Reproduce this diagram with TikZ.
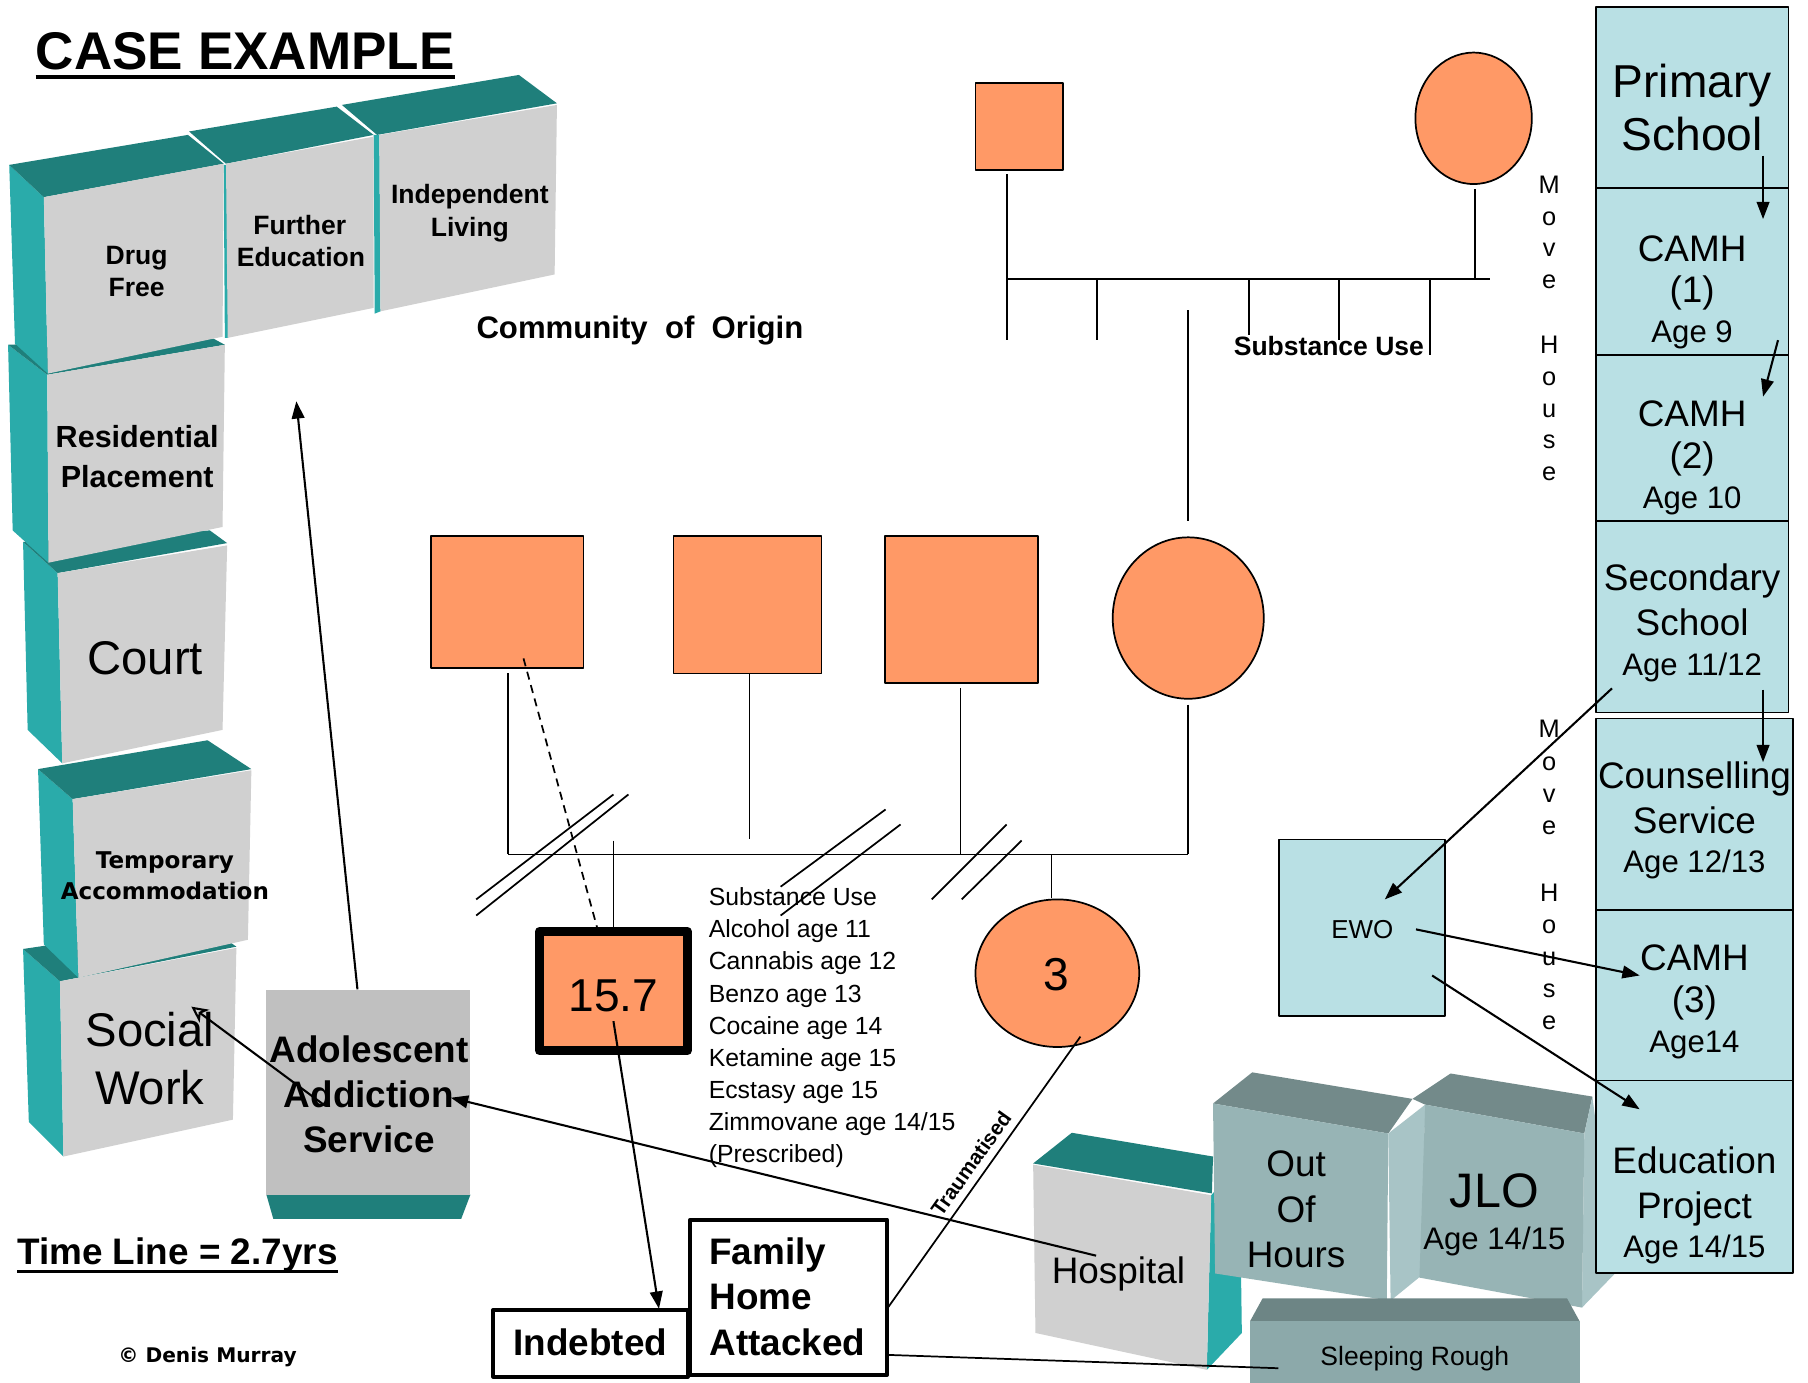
\documentclass[tikz,border=0pt]{standalone}
\usepackage{fontspec}
\setmainfont{Liberation Sans}
\newfontfamily\verd{DejaVu Sans}
\usetikzlibrary{arrows.meta,shapes.geometric,calc}
\definecolor{tside}{HTML}{2AABAA}
\definecolor{ttop}{HTML}{1F7F7B}
\definecolor{bgray}{HTML}{D0D0D0}
\definecolor{agray}{HTML}{C0C0C0}
\definecolor{orng}{HTML}{FF9966}
\definecolor{lcyan}{HTML}{B9E0E4}
\definecolor{gfront}{HTML}{97B4B5}
\definecolor{gtop}{HTML}{738A8A}
\definecolor{gside}{HTML}{A8C4C6}
\definecolor{sfront}{HTML}{8CA9AA}
\definecolor{stop}{HTML}{6D8585}
\newcommand\fsz[2]{\fontsize{#1}{#2}\selectfont}
\newcommand\txtl[6][]{\node[inner sep=0,outer sep=0,anchor=base,font={\fsz{#5}{#5}#1}] (#2) at (#3,{#4+0.358*#5}) {#6};}
\newcommand\txtw[6][]{\node[inner sep=0,outer sep=0,anchor=base west,font={\fsz{#5}{#5}#1}] (#2) at (#3,{#4+0.358*#5}) {#6};}
\tikzset{
  gen/.style={line width=1.5},
  conn/.style={line width=1.8},
  arr/.style={line width=1.8,-{Triangle[length=15,width=11]}},
  oarr/.style={line width=1.8,-{Stealth[open,length=14,width=14,inset=4]}},
  gsq/.style={draw,line width=1.5,fill=orng,rectangle,inner sep=0},
  gci/.style={draw,line width=1.5,fill=orng,ellipse,inner sep=0},
  rbox/.style={draw,line width=1.5,fill=lcyan,rectangle,inner sep=0},
  tbox/.style={draw,fill=white,rectangle,inner sep=0,line width=3.5},
}
\begin{document}
\begin{tikzpicture}[x=1pt,y=-1pt,line join=round]
\useasboundingbox (0,0) rectangle (1568,1199);
\fill[white] (0,0) rectangle (1568,1199);

% ---------- left column of 3D blocks ----------
% Social Work
\fill[tside] (20,823) -- (52,851) -- (55,1003) -- (25,973) -- cycle;
\fill[ttop] (20,823) -- (175,800) -- (205,821) -- (52,851) -- cycle;
\fill[bgray] (52,851) -- (205,822) -- (202,971) -- (55,1003) -- cycle;
% Temporary Accommodation
\fill[tside] (33,667) -- (63,693) -- (68,848) -- (38,819) -- cycle;
\fill[ttop] (33,667) -- (180,642) -- (218,667) -- (63,693) -- cycle;
\fill[bgray] (63,693) -- (218,668) -- (215,815) -- (68,848) -- cycle;
% Court
\fill[tside] (20,470) -- (50,497) -- (54,662) -- (24,633) -- cycle;
\fill[ttop] (20,470) -- (182,460) -- (197,471) -- (50,497) -- cycle;
\fill[bgray] (50,497) -- (197,473) -- (193,633) -- (54,662) -- cycle;
% Residential Placement
\fill[tside] (7,299) -- (41,325) -- (42,488) -- (11,460) -- cycle;
\fill[ttop] (7,299) -- (182,292) -- (195,299) -- (41,325) -- cycle;
\fill[bgray] (41,325) -- (195,299) -- (193,457) -- (42,488) -- cycle;
% Independent Living
\fill[ttop] (296.5,91) -- (450,65) -- (483,89.6) -- (327,117) -- cycle;
\fill[tside] (324,117) -- (329,117) -- (330,270) -- (325,272) -- cycle;
\fill[bgray] (329,117) -- (483,91) -- (481,238) -- (330,270) -- cycle;
% Further Education
\fill[ttop] (164,114) -- (292,92.5) -- (324,117) -- (196,142) -- cycle;
\fill[tside] (194,143) -- (197,143) -- (198,293) -- (195,293) -- cycle;
\fill[bgray] (196,142) -- (324,118.5) -- (324,267) -- (197.5,293) -- cycle;
% Drug Free
\fill[tside] (8,143) -- (38,171) -- (41.5,324) -- (13,298) -- cycle;
\fill[ttop] (8,143) -- (163,117) -- (194,142) -- (38,171) -- cycle;
\fill[bgray] (38,171) -- (194,142) -- (193,292) -- (41.5,324) -- cycle;

% Adolescent Addiction Service
\fill[ttop] (231,1036) -- (408,1036) -- (400,1057) -- (237,1057) -- cycle;
\node[fill=agray,rectangle,inner sep=0,minimum width=177,minimum height=177] (aas) at (319.5,947.5) {};

% ---------- genogram top ----------
\node[gsq,minimum width=76,minimum height=75.5] (gf) at (884,109.8) {};
\node[gci,minimum width=101,minimum height=114] (gm) at (1278,102.6) {};
\coordinate (gfd) at (873,151);
\coordinate (gfl) at (873,295);
\coordinate (gmd) at (1279,164);
\coordinate (hl) at (873,242);
\coordinate (hr) at (1292,242);
\draw[gen] (gfd) -- (gfl);
\draw[gen] (gmd) -- (1279,242);
\draw[gen] (hl) -- (hr);
\draw[gen] (951.6,242) -- (951.6,295);
\draw[gen] (1083,242) -- (1083,290.6);
\draw[gen] (1161,242) -- (1161,295);
\draw[gen] (1240,242) -- (1240,308);
\coordinate (mtop) at (1030,269);
\coordinate (mbot) at (1030,452);
\draw[gen] (mtop) -- (mbot);

% ---------- genogram middle ----------
\node[gsq,minimum width=132.4,minimum height=114.6] (s1) at (439.8,522.3) {};
\node[gsq,minimum width=128.4,minimum height=119] (s2) at (648.2,524.5) {};
\node[gsq,minimum width=132.4,minimum height=127.6] (s3) at (833.8,528.8) {};
\node[gci,minimum width=131,minimum height=140] (c1) at (1030.5,536) {};
\coordinate (j1) at (440.6,741);
\coordinate (j4) at (1030,741);
\draw[gen] (440.6,584) -- (j1);
\draw[gen] (650,584) -- (650,728);
\draw[gen] (833,597) -- (833,741);
\draw[gen] (1030,611) -- (j4);
\draw[gen] (j1) -- (j4);
\draw[gen] (912,741) -- (912,779);
\draw[gen] (532,729) -- (532,806);
\draw[gen,dash pattern=on 7pt off 5pt] (454,571) -- (518,805);
% separation slashes
\draw[gen] (413,780) -- (532,689);
\draw[gen] (413,794) -- (545,689);
\draw[gen] (677,769) -- (768,702);
\draw[gen] (677,794) -- (781,715);
\draw[gen] (808,780) -- (873,715);
\draw[gen] (834,780) -- (886,729);

% the young person and the sibling
\node[draw,fill=orng,rectangle,inner sep=0,line width=7.7,minimum width=128.3,minimum height=103.3] (yp) at (532,859.5) {};
\node[gci,minimum width=142,minimum height=128] (c3) at (917,844) {};

% Indebted / Family Home Attacked boxes
\node[tbox,minimum width=168.5,minimum height=58] (ind) at (512,1165) {};
\node[tbox,minimum width=170.5,minimum height=134.5] (fam) at (684,1125) {};

% ---------- bottom right 3D blocks ----------
% Hospital
\fill[tside] (1050.4,1036.5) -- (1075,1010) -- (1077,1156) -- (1046.6,1188) -- cycle;
\fill[ttop] (896,1009) -- (929.5,982.4) -- (1052,1003) -- (1051,1035) -- cycle;
\fill[bgray] (896,1010) -- (1050.4,1036.5) -- (1046.6,1188) -- (898,1156) -- cycle;
% Out Of Hours
\fill[gtop] (1052,957) -- (1086,930) -- (1225,953) -- (1204,983) -- cycle;
\fill[gfront] (1052,957) -- (1204,983) -- (1202.7,1127.5) -- (1053.8,1104.4) -- cycle;
% JLO
\fill[gtop] (1225,953) -- (1258,931) -- (1381,951) -- (1374,983) -- (1236,958) -- cycle;
\fill[gside] (1204,983) -- (1236,958) -- (1233,1106) -- (1206,1128) -- cycle;
\fill[gside] (1374,983) -- (1381,951) -- (1401,1104) -- (1372,1134) -- cycle;
\fill[gfront] (1236,958) -- (1374,983) -- (1372,1134) -- (1231,1108) -- cycle;
% Sleeping Rough
\fill[stop] (1084,1146) -- (1095,1126) -- (1359,1126) -- (1370,1146) -- cycle;
\fill[sfront] (1084,1146) -- (1370,1146) -- (1370,1199) -- (1084,1199) -- cycle;

% ---------- right column ----------
\node[rbox,minimum width=167,minimum height=157] (ps) at (1467.5,84.5) {};
\node[rbox,minimum width=167,minimum height=145] (cm1) at (1467.5,235.5) {};
\node[rbox,minimum width=167,minimum height=144] (cm2) at (1467.5,380) {};
\node[rbox,minimum width=167,minimum height=166] (ss) at (1467.5,535) {};
\node[rbox,minimum width=171,minimum height=166] (cs) at (1469.5,706) {};
\node[rbox,minimum width=171,minimum height=148] (cm3) at (1469.5,863) {};
\node[rbox,minimum width=171,minimum height=167] (ep) at (1469.5,1020.5) {};
\node[rbox,minimum width=144,minimum height=153] (ewo) at (1181,804.5) {};

% ---------- texts ----------
\node[anchor=base west,inner sep=0,font={\fsz{46}{46}\bfseries}] (title) at (31,60) {CASE EXAMPLE};
\draw[line width=3.5] ([yshift=-7pt]title.base west) -- ([yshift=-7pt]title.base east);

\txtl[\bfseries]{tdrug}{118.5}{221}{23}{Drug}
\txtl[\bfseries]{tfree}{118.5}{248.5}{23}{Free}
\txtl[\bfseries]{tfur}{260}{195}{23}{Further}
\txtl[\bfseries]{tedu}{261}{222.5}{23}{Education}
\txtl[\bfseries]{tind}{407.5}{168.5}{23}{Independent}
\txtl[\bfseries]{tliv}{407.5}{196.5}{23}{Living}
\txtl[\bfseries]{tres}{119}{379}{26.5}{Residential}
\txtl[\bfseries]{tpla}{119}{413}{26.5}{Placement}
\txtl{tcourt}{126}{570}{41}{Court}
\txtl[\verd\bfseries]{ttem}{143}{746}{20}{Temporary}
\txtl[\verd\bfseries]{tacc}{143}{773}{20}{Accommodation}
\txtl{tsoc}{130}{893}{41}{Social}
\txtl{twork}{130}{943}{41}{Work}
\txtl[\bfseries]{tado}{320}{910}{32}{Adolescent}
\txtl[\bfseries]{tadd}{320}{949}{32}{Addiction}
\txtl[\bfseries]{tser}{320}{988}{32}{Service}
\txtw[\bfseries]{ttime}{15}{1085}{32}{Time Line = 2.7yrs}
\draw[line width=2.5] ([yshift=-6pt]ttime.base west) -- ([yshift=-6pt]ttime.base east);
\txtl[\verd\bfseries]{tcopy}{180}{1175}{17.5}{© Denis Murray}
\txtl[\bfseries]{tcom}{555}{284}{27}{Community\ \ of\ \ Origin}
\txtl[\bfseries]{tsu}{1152.5}{300}{23}{Substance Use}

% Move House (twice)
\foreach \ch [count=\i from 0] in {M,o,v,e}
  \node[inner sep=0,anchor=base,font={\fsz{22}{22}}] (mha\i) at (1343.5,{168+27.4*\i}) {\ch};
\foreach \ch [count=\i from 0] in {H,o,u,s,e}
  \node[inner sep=0,anchor=base,font={\fsz{22}{22}}] (mhb\i) at (1343.5,{306.5+27.6*\i}) {\ch};
\foreach \ch [count=\i from 0] in {M,o,v,e}
  \node[inner sep=0,anchor=base,font={\fsz{22}{22}}] (mhc\i) at (1343.5,{640+28*\i}) {\ch};
\foreach \ch [count=\i from 0] in {H,o,u,s,e}
  \node[inner sep=0,anchor=base,font={\fsz{22}{22}}] (mhd\i) at (1343.5,{781.5+27.8*\i}) {\ch};

% right column texts
\txtl{tps1}{1467.5}{70}{40}{Primary}
\txtl{tps2}{1467.5}{116}{40}{School}
\txtl{tc11}{1467.5}{215}{32}{CAMH}
\txtl{tc12}{1467.5}{251}{32}{(1)}
\txtl{tc13}{1467.5}{287}{27}{Age 9}
\txtl{tc21}{1467.5}{358}{32}{CAMH}
\txtl{tc22}{1467.5}{395}{32}{(2)}
\txtl{tc23}{1467.5}{431}{27}{Age 10}
\txtl{tss1}{1467.5}{501}{32}{Secondary}
\txtl{tss2}{1467.5}{540}{32}{School}
\txtl{tss3}{1467.5}{576}{27}{Age 11/12}
\txtl{tcs1}{1469.5}{672}{32}{Counselling}
\txtl{tcs2}{1469.5}{711}{32}{Service}
\txtl{tcs3}{1469.5}{747}{27}{Age 12/13}
\txtl{tc31}{1469.5}{830}{32}{CAMH}
\txtl{tc32}{1469.5}{867}{32}{(3)}
\txtl{tc33}{1469.5}{903}{27}{Age14}
\txtl{tep1}{1469.5}{1006}{32}{Education}
\txtl{tep2}{1469.5}{1045}{32}{Project}
\txtl{tep3}{1469.5}{1081}{27}{Age 14/15}
\txtl{tewo}{1181.5}{806}{22.5}{EWO}

% middle texts
\txtl{typ}{532}{863}{40}{15.7}
\txtl{tc3}{916}{845}{40}{3}
\node[inner sep=0,anchor=north west,align=left,font={\fsz{21.5}{27.9}}] (sul) at (614.5,769.5)
  {Substance Use\\Alcohol age 11\\Cannabis age 12\\Benzo age 13\\Cocaine age 14\\Ketamine age 15\\Ecstasy age 15\\Zimmovane age 14/15\\(Prescribed)};
\txtl[\bfseries]{tind2}{512}{1164}{32}{Indebted}
\node[inner sep=0,anchor=north west,align=left,font={\fsz{32}{39.5}\bfseries}] (tfam) at (615,1073)
  {Family\\Home\\Attacked};

% bottom right texts
\txtl{thos}{970}{1101.5}{32}{Hospital}
\node[inner sep=0,anchor=north,align=center,font={\fsz{32}{39.8}}] (tout) at (1124,997.5) {Out\\Of\\Hours};
\txtl{tjlo1}{1296}{1032}{42}{JLO}
\txtl{tjlo2}{1296}{1074}{27}{Age 14/15}
\txtl{tsr}{1227}{1176}{23}{Sleeping Rough}

% ---------- connectors ----------
\coordinate (aasTop) at (310,858);
\coordinate (upTip) at (257,348);
\draw[arr] (aasTop) -- (upTip);
\coordinate (aasA) at (282,959);
\coordinate (socTip) at (166,873);
\draw[oarr] (aasA) -- (socTip);
\coordinate (hosp) at (950.6,1089);
\coordinate (aasTip) at (391,952);
\draw[arr] (hosp) -- (aasTip);
\coordinate (ypc) at (532,885.6);
\coordinate (indTop) at (571.5,1135);
\draw[arr] (ypc) -- (indTop);
\coordinate (c3b) at (937,899);
\coordinate (famR) at (769,1135.5);
\draw[gen] (c3b) -- (famR);
\node[rotate=54.6,inner sep=0,font={\fsz{18}{18}\bfseries}] (trau) at (842,1009) {Traumatised};
\coordinate (famR2) at (769,1175);
\coordinate (srL) at (1108.6,1186.6);
\draw[gen] (famR2) -- (srL);
% right column arrows
\draw[arr] (1529,135) -- (1529,190);
\draw[arr] (1542,295) -- (1529,344);
\draw[arr] (1529,598) -- (1529,661);
\coordinate (ssBL) at (1398,597);
\coordinate (ewoTip) at (1201,780);
\draw[arr] (ssBL) -- (ewoTip);
\coordinate (ewoR1) at (1228,806);
\coordinate (cm3Tip) at (1422,846);
\draw[arr] (ewoR1) -- (cm3Tip);
\coordinate (ewoR2) at (1242,846);
\coordinate (epTip) at (1422,962);
\draw[arr] (ewoR2) -- (epTip);
\end{tikzpicture}
\end{document}
